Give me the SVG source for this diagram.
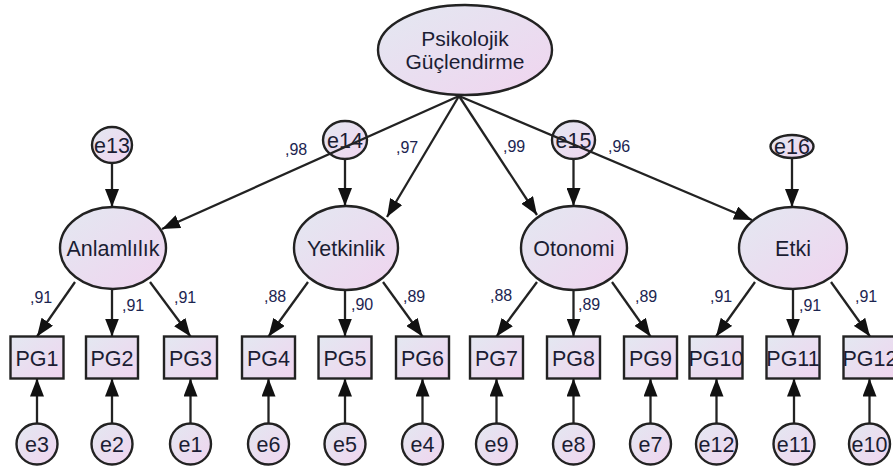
<svg xmlns="http://www.w3.org/2000/svg" width="893" height="471" viewBox="0 0 893 471">
  <defs>
    <linearGradient id="g" x1="0" y1="0" x2="1" y2="1">
      <stop offset="0" stop-color="#e3e8f1"/>
      <stop offset="1" stop-color="#f0d4ef"/>
    </linearGradient>
    <marker id="a" viewBox="0 0 18 14" refX="18" refY="7" markerWidth="18" markerHeight="14" markerUnits="userSpaceOnUse" orient="auto">
      <path d="M0,0 L18,7 L0,14 z" fill="#111"/>
    </marker>
    <style>
      .s{fill:url(#g);stroke:#222;stroke-width:2.4}
      .t{font-family:"Liberation Sans",Arial,sans-serif;font-size:21.5px;fill:#1b1d33;text-anchor:middle}
      .top{font-size:21px}
      .n{font-family:"Liberation Sans",Arial,sans-serif;font-size:16px;fill:#1c2550}
      .c{stroke:#222;stroke-width:2.3;fill:none;marker-end:url(#a)}
    </style>
  </defs>
  <rect width="893" height="471" fill="#fff"/>

  <!-- second-order factor -->
  <g id="psikolojik">
    <ellipse class="s" cx="465" cy="50" rx="87" ry="45"/>
    <text class="t top" x="465" y="46">Psikolojik</text>
    <text class="t top" x="465" y="69">Güçlendirme</text>
  </g>

  <!-- first-order factors -->
  <g id="anlamlilik">
    <ellipse class="s" cx="113" cy="248" rx="53" ry="41"/>
    <text class="t" x="113" y="256">Anlamlılık</text>
  </g>
  <g id="yetkinlik">
    <ellipse class="s" cx="346" cy="248" rx="52" ry="42"/>
    <text class="t" x="346" y="256">Yetkinlik</text>
  </g>
  <g id="otonomi">
    <ellipse class="s" cx="574" cy="248" rx="53" ry="42"/>
    <text class="t" x="574" y="256">Otonomi</text>
  </g>
  <g id="etki">
    <ellipse class="s" cx="793" cy="248" rx="54" ry="41"/>
    <text class="t" x="793" y="256">Etki</text>
  </g>

  <!-- disturbances of the first-order factors -->
  <g id="e13"><ellipse class="s" cx="112" cy="145" rx="20" ry="18"/><text class="t" x="112" y="152.5">e13</text></g>
  <g id="e14"><ellipse class="s" cx="345" cy="140" rx="22" ry="19"/><text class="t" x="345" y="147.5">e14</text></g>
  <g id="e15"><ellipse class="s" cx="573.5" cy="140" rx="21.5" ry="19"/><text class="t" x="573.5" y="147.5">e15</text></g>
  <g id="e16"><ellipse class="s" cx="792" cy="146.5" rx="21.5" ry="11.5"/><text class="t" x="792" y="154">e16</text></g>

  <!-- indicators -->
  <g id="pg1"><rect class="s" x="10.5" y="336.5" width="53" height="42"/><text class="t" x="37" y="365.5">PG1</text></g>
  <g id="pg2"><rect class="s" x="86" y="336.5" width="52" height="42"/><text class="t" x="112" y="365.5">PG2</text></g>
  <g id="pg3"><rect class="s" x="164" y="336.5" width="53" height="42"/><text class="t" x="190.5" y="365.5">PG3</text></g>
  <g id="pg4"><rect class="s" x="242" y="336.5" width="53" height="42"/><text class="t" x="268.5" y="365.5">PG4</text></g>
  <g id="pg5"><rect class="s" x="318.5" y="336.5" width="53" height="42"/><text class="t" x="345" y="365.5">PG5</text></g>
  <g id="pg6"><rect class="s" x="396" y="336.5" width="53" height="42"/><text class="t" x="422.5" y="365.5">PG6</text></g>
  <g id="pg7"><rect class="s" x="470" y="336.5" width="53" height="42"/><text class="t" x="496.5" y="365.5">PG7</text></g>
  <g id="pg8"><rect class="s" x="547" y="336.5" width="53" height="42"/><text class="t" x="573.5" y="365.5">PG8</text></g>
  <g id="pg9"><rect class="s" x="624" y="336.5" width="53" height="42"/><text class="t" x="650.5" y="365.5">PG9</text></g>
  <g id="pg10"><rect class="s" x="689.5" y="336.5" width="53" height="42"/><text class="t" x="716" y="365.5">PG10</text></g>
  <g id="pg11"><rect class="s" x="766.5" y="336.5" width="53" height="42"/><text class="t" x="793" y="365.5">PG11</text></g>
  <g id="pg12"><rect class="s" x="843.5" y="336.5" width="53" height="42"/><text class="t" x="870" y="365.5">PG12</text></g>

  <!-- measurement errors -->
  <g id="e3"><circle class="s" cx="37" cy="444" r="20.5"/><text class="t" x="37" y="451.5">e3</text></g>
  <g id="e2"><circle class="s" cx="112" cy="444" r="20.5"/><text class="t" x="112" y="451.5">e2</text></g>
  <g id="e1"><circle class="s" cx="190.5" cy="444" r="20.5"/><text class="t" x="190.5" y="451.5">e1</text></g>
  <g id="e6"><circle class="s" cx="268.5" cy="444" r="20.5"/><text class="t" x="268.5" y="451.5">e6</text></g>
  <g id="e5"><circle class="s" cx="345" cy="444" r="20.5"/><text class="t" x="345" y="451.5">e5</text></g>
  <g id="e4"><circle class="s" cx="422.5" cy="444" r="20.5"/><text class="t" x="422.5" y="451.5">e4</text></g>
  <g id="e9"><circle class="s" cx="496.5" cy="444" r="20.5"/><text class="t" x="496.5" y="451.5">e9</text></g>
  <g id="e8"><circle class="s" cx="573.5" cy="444" r="20.5"/><text class="t" x="573.5" y="451.5">e8</text></g>
  <g id="e7"><circle class="s" cx="650.5" cy="444" r="20.5"/><text class="t" x="650.5" y="451.5">e7</text></g>
  <g id="e12"><circle class="s" cx="716.5" cy="444" r="20.5"/><text class="t" x="716.5" y="451.5">e12</text></g>
  <g id="e11"><circle class="s" cx="794" cy="444" r="20.5"/><text class="t" x="794" y="451.5">e11</text></g>
  <g id="e10"><circle class="s" cx="869.5" cy="444" r="20.5"/><text class="t" x="869.5" y="451.5">e10</text></g>

  <!-- paths -->
  <g id="connectors">
    <!-- second-order loadings -->
    <line class="c" x1="459" y1="96" x2="162" y2="229"/>
    <line class="c" x1="459" y1="96" x2="387" y2="217"/>
    <line class="c" x1="459" y1="96" x2="537" y2="215"/>
    <line class="c" x1="459" y1="96" x2="752" y2="220"/>
    <!-- disturbances -->
    <line class="c" x1="112" y1="163" x2="112" y2="207"/>
    <line class="c" x1="345" y1="159" x2="345" y2="206"/>
    <line class="c" x1="573.5" y1="159" x2="573.5" y2="206"/>
    <line class="c" x1="792" y1="158" x2="792" y2="207"/>
    <!-- first-order loadings -->
    <line class="c" x1="75" y1="282" x2="37" y2="336.5"/>
    <line class="c" x1="112" y1="289" x2="112" y2="336.5"/>
    <line class="c" x1="150" y1="282" x2="190.5" y2="336.5"/>
    <line class="c" x1="308" y1="282" x2="268.5" y2="336.5"/>
    <line class="c" x1="345" y1="290" x2="345" y2="336.5"/>
    <line class="c" x1="383" y1="282" x2="422.5" y2="336.5"/>
    <line class="c" x1="537" y1="282" x2="496.5" y2="336.5"/>
    <line class="c" x1="573.5" y1="290" x2="573.5" y2="336.5"/>
    <line class="c" x1="612" y1="282" x2="650.5" y2="336.5"/>
    <line class="c" x1="755" y1="282" x2="716" y2="336.5"/>
    <line class="c" x1="793" y1="289" x2="793" y2="336.5"/>
    <line class="c" x1="831" y1="282" x2="870" y2="336.5"/>
    <!-- measurement errors -->
    <line class="c" x1="37" y1="423.5" x2="37" y2="378.5"/>
    <line class="c" x1="112" y1="423.5" x2="112" y2="378.5"/>
    <line class="c" x1="190.5" y1="423.5" x2="190.5" y2="378.5"/>
    <line class="c" x1="268.5" y1="423.5" x2="268.5" y2="378.5"/>
    <line class="c" x1="345" y1="423.5" x2="345" y2="378.5"/>
    <line class="c" x1="422.5" y1="423.5" x2="422.5" y2="378.5"/>
    <line class="c" x1="496.5" y1="423.5" x2="496.5" y2="378.5"/>
    <line class="c" x1="573.5" y1="423.5" x2="573.5" y2="378.5"/>
    <line class="c" x1="650.5" y1="423.5" x2="650.5" y2="378.5"/>
    <line class="c" x1="716.5" y1="423.5" x2="716.5" y2="378.5"/>
    <line class="c" x1="794" y1="423.5" x2="794" y2="378.5"/>
    <line class="c" x1="869.5" y1="423.5" x2="869.5" y2="378.5"/>
  </g>

  <!-- standardized estimates -->
  <g id="estimates">
    <text class="n" x="285" y="155">,98</text>
    <text class="n" x="396" y="153">,97</text>
    <text class="n" x="503" y="152">,99</text>
    <text class="n" x="608" y="152">,96</text>
    <text class="n" x="30" y="303">,91</text>
    <text class="n" x="122" y="311">,91</text>
    <text class="n" x="174" y="303">,91</text>
    <text class="n" x="264" y="302">,88</text>
    <text class="n" x="351" y="310">,90</text>
    <text class="n" x="403" y="302">,89</text>
    <text class="n" x="490" y="301">,88</text>
    <text class="n" x="578" y="310">,89</text>
    <text class="n" x="635" y="302">,89</text>
    <text class="n" x="710" y="302">,91</text>
    <text class="n" x="799" y="311">,91</text>
    <text class="n" x="855" y="302">,91</text>
  </g>
</svg>
